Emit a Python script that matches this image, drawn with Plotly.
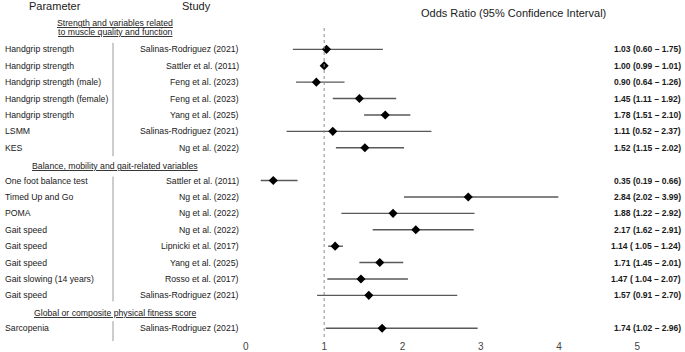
import plotly.graph_objects as go

# ---- data ----
parameters = [
    "Handgrip strength", "Handgrip strength", "Handgrip strength (male)",
    "Handgrip strength (female)", "Handgrip strength", "LSMM", "KES",
    "One foot balance test", "Timed Up and Go", "POMA", "Gait speed",
    "Gait speed", "Gait speed", "Gait slowing (14 years)", "Gait speed",
    "Sarcopenia",
]
studies = [
    "Salinas-Rodriguez (2021)", "Sattler et al. (2011)", "Feng et al. (2023)",
    "Feng et al. (2023)", "Yang et al. (2025)", "Salinas-Rodriguez (2021)",
    "Ng et al. (2022)",
    "Sattler et al. (2011)", "Ng et al. (2022)", "Ng et al. (2022)",
    "Ng et al. (2022)", "Lipnicki et al. (2017)", "Yang et al. (2025)",
    "Rosso et al. (2017)", "Salinas-Rodriguez (2021)",
    "Salinas-Rodriguez (2021)",
]
odds_ratio = [1.03, 1.00, 0.90, 1.45, 1.78, 1.11, 1.52,
              0.35, 2.84, 1.88, 2.17, 1.14, 1.71, 1.47, 1.57,
              1.74]
ci_low = [0.60, 0.99, 0.64, 1.11, 1.51, 0.52, 1.15,
          0.19, 2.02, 1.22, 1.62, 1.05, 1.45, 1.04, 0.91,
          1.02]
ci_high = [1.75, 1.01, 1.26, 1.92, 2.10, 2.37, 2.02,
           0.66, 3.99, 2.92, 2.91, 1.24, 2.01, 2.07, 2.70,
           2.96]
or_labels = [
    "1.03 (0.60 – 1.75)", "1.00 (0.99 – 1.01)", "0.90 (0.64 – 1.26)",
    "1.45 (1.11 – 1.92)", "1.78 (1.51 – 2.10)", "1.11 (0.52 – 2.37)",
    "1.52 (1.15 – 2.02)",
    "0.35 (0.19 – 0.66)", "2.84 (2.02 – 3.99)", "1.88 (1.22 – 2.92)",
    "2.17 (1.62 – 2.91)", "1.14 ( 1.05 – 1.24)", "1.71 (1.45 – 2.01)",
    "1.47 ( 1.04 – 2.07)", "1.57 (0.91 – 2.70)",
    "1.74 (1.02 – 2.96)",
]
section_titles = [
    ["Strength and variables related", "to muscle quality and function"],
    ["Balance, mobility and gait-related variables"],
    ["Global or composite physical fitness score"],
]
section_sizes = [7, 8, 1]
x_ticks = [0, 1, 2, 3, 4, 5]
column_titles = ["Parameter", "Study", "Odds Ratio (95% Confidence Interval)"]

# ---- row slots (a section header occupies one slot) ----
row_slots = []
header_slots = []
slot = 0
for i, n in enumerate(section_sizes):
    if i > 0:
        header_slots.append(slot + 0.1)
        slot += 1
    else:
        header_slots.append(None)
    row_slots.append(list(range(slot, slot + n)))
    slot += n
y_rows = [s for grp in row_slots for s in grp]

W, H = 685, 352
MB = 14
PH = H - MB
PITCH = 16.45
Y0 = 49.5
y_top = -Y0 / PITCH
y_bot = (PH - Y0) / PITCH


def px_x(p):
    return p / W


def px_y(p):
    return 1 - p / PH


def slot_px(s):
    return Y0 + s * PITCH


FONT = "Liberation Sans, Arial, sans-serif"
TXT = "#1a1a1a"
FS = 8.7

fig = go.Figure()
fig.add_trace(go.Scatter(
    x=odds_ratio, y=y_rows, mode="markers",
    marker=dict(symbol="diamond", size=7, color="black"),
    error_x=dict(type="data", symmetric=False,
                 array=[h - o for h, o in zip(ci_high, odds_ratio)],
                 arrayminus=[o - l for o, l in zip(odds_ratio, ci_low)],
                 color="#595959", thickness=1.4, width=0),
    hoverinfo="skip", showlegend=False,
))

ann = []
for p, s, lab, y in zip(parameters, studies, or_labels, y_rows):
    ann.append(dict(x=px_x(2), y=y, xref="paper", yref="y", text=p,
                    xanchor="left", yanchor="middle", showarrow=False,
                    borderpad=0, borderwidth=0,
                    font=dict(size=FS, color=TXT, family=FONT)))
    ann.append(dict(x=px_x(238), y=y, xref="paper", yref="y", text=s,
                    xanchor="right", yanchor="middle", showarrow=False,
                    borderpad=0, borderwidth=0,
                    font=dict(size=FS, color=TXT, family=FONT)))
    ann.append(dict(x=px_x(684), y=y, xref="paper", yref="y",
                    text="<b>" + lab + "</b>",
                    xanchor="right", yanchor="middle", showarrow=False,
                    borderpad=0, borderwidth=0,
                    font=dict(size=8.5, color=TXT, family=FONT)))

# section headers
header_px = [[23.3, 32.3], [slot_px(header_slots[1])], [slot_px(header_slots[2])]]
for lines, pys in zip(section_titles, header_px):
    for t, py in zip(lines, pys):
        ann.append(dict(x=px_x(113), y=px_y(py), xref="paper", yref="paper",
                        text="<u>" + t + "</u>",
                        xanchor="center", yanchor="middle", showarrow=False,
                        borderpad=0, borderwidth=0,
                        font=dict(size=FS, color=TXT, family=FONT)))

for t, cx, cy in zip(column_titles, [52, 195, 515], [6, 6, 13.5]):
    ann.append(dict(x=px_x(cx), y=px_y(cy), xref="paper", yref="paper",
                    text=t, xanchor="center", yanchor="middle",
                    showarrow=False, borderpad=0, borderwidth=0,
                    font=dict(size=11, color=TXT, family=FONT)))

shapes = [dict(type="line", xref="x", yref="paper", x0=1, x1=1,
               y0=px_y(PH), y1=px_y(25),
               line=dict(color="#8c8c8c", width=1, dash="dot"))]
div_ext = [(-6.5, 8.5), (-4, 6), (-7, 13)]
for grp, (a, b) in zip(row_slots, div_ext):
    shapes.append(dict(type="line", xref="paper", yref="paper",
                       x0=px_x(111), x1=px_x(111),
                       y0=px_y(slot_px(grp[0]) + a),
                       y1=px_y(slot_px(grp[-1]) + b),
                       line=dict(color="#9a9a9a", width=1)))

fig.update_layout(
    width=W, height=H,
    margin=dict(l=0, r=0, t=0, b=MB),
    plot_bgcolor="white", paper_bgcolor="white",
    annotations=ann, shapes=shapes,
    xaxis=dict(domain=[245 / W, 640 / W], range=[0, 5],
               tickvals=x_ticks, showgrid=False, zeroline=False,
               showline=False, ticks="", ticklabelstandoff=2,
               tickfont=dict(size=10, color="#444444", family=FONT)),
    yaxis=dict(range=[y_bot, y_top], visible=False, showgrid=False,
               zeroline=False),
    font=dict(family=FONT),
)
fig.write_html("out.html", config={"displayModeBar": False},
               post_script="document.body.style.margin='0';"
                           "document.body.style.overflow='hidden';")
